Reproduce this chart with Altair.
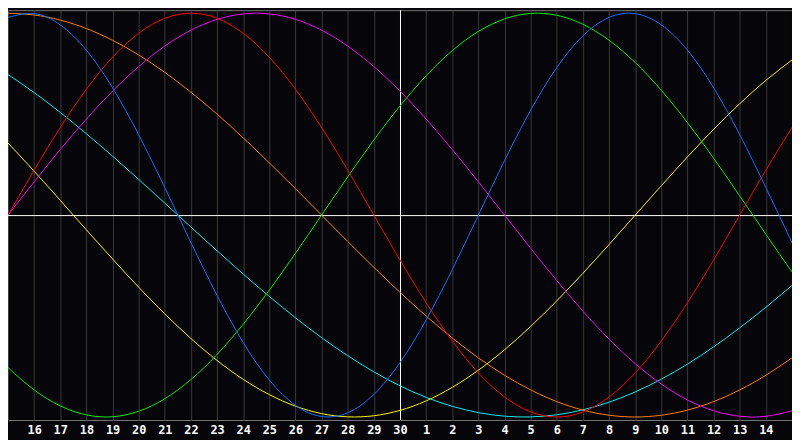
import altair as alt
import pandas as pd

# day index: 0 = the 15th of the previous month, 15 = the 30th (today), 30 = the 15th
t = list(range(31))
day_labels = ["", "16", "17", "18", "19", "20", "21", "22", "23", "24", "25", "26", "27",
              "28", "29", "30", "1", "2", "3", "4", "5", "6", "7", "8", "9", "10", "11",
              "12", "13", "14", ""]

blue = [0.9791, 0.9977, 0.9423, 0.8170, 0.6311, 0.3984, 0.1362, -0.1362, -0.3984, -0.6311,
        -0.8170, -0.9423, -0.9977, -0.9791, -0.8880, -0.7308, -0.5196, -0.2698, 0.0, 0.2698,
        0.5196, 0.7308, 0.8880, 0.9791, 0.9977, 0.9423, 0.8170, 0.6311, 0.3984, 0.1362, -0.1362]
red = [0.0, 0.2225, 0.4339, 0.6235, 0.7818, 0.9010, 0.9749, 1.0, 0.9749, 0.9010,
       0.7818, 0.6235, 0.4339, 0.2225, 0.0, -0.2225, -0.4339, -0.6235, -0.7818, -0.9010,
       -0.9749, -1.0, -0.9749, -0.9010, -0.7818, -0.6235, -0.4339, -0.2225, 0.0, 0.2225, 0.4339]
green = [-0.7557, -0.8660, -0.9450, -0.9898, -0.9989, -0.9718, -0.9096, -0.8146, -0.6901, -0.5406,
         -0.3717, -0.1893, 0.0, 0.1893, 0.3717, 0.5406, 0.6901, 0.8146, 0.9096, 0.9718,
         0.9989, 0.9898, 0.9450, 0.8660, 0.7557, 0.6182, 0.4582, 0.2817, 0.0951, -0.0951, -0.2817]
magenta = [0.0, 0.1646, 0.3247, 0.4759, 0.6142, 0.7357, 0.8372, 0.9158, 0.9694, 0.9966,
           0.9966, 0.9694, 0.9158, 0.8372, 0.7357, 0.6142, 0.4759, 0.3247, 0.1646, 0.0,
           -0.1646, -0.3247, -0.4759, -0.6142, -0.7357, -0.8372, -0.9158, -0.9694, -0.9966, -0.9966, -0.9694]
yellow = [0.3572, 0.2174, 0.0730, -0.0730, -0.2174, -0.3572, -0.4894, -0.6112, -0.7202, -0.8135,
          -0.8894, -0.9465, -0.9834, -0.9993, -0.9940, -0.9675, -0.9204, -0.8533, -0.7685, -0.6671,
          -0.5517, -0.4245, -0.2881, -0.1456, 0.0, 0.1456, 0.2881, 0.4245, 0.5517, 0.6671, 0.7685]
orange = [1.0, 0.9914, 0.9659, 0.9239, 0.8660, 0.7934, 0.7071, 0.6088, 0.5, 0.3827,
          0.2588, 0.1305, 0.0, -0.1305, -0.2588, -0.3827, -0.5, -0.6088, -0.7071, -0.7934,
          -0.8660, -0.9239, -0.9659, -0.9914, -1.0, -0.9914, -0.9659, -0.9239, -0.8660, -0.7934, -0.7071]
cyan = [0.6966, 0.6069, 0.5086, 0.4031, 0.2920, 0.1769, 0.0593, -0.0593, -0.1769, -0.2920,
        -0.4031, -0.5086, -0.6069, -0.6966, -0.7765, -0.8457, -0.9028, -0.9473, -0.9785, -0.9961,
        -0.9996, -0.9890, -0.9646, -0.9267, -0.8758, -0.8127, -0.7380, -0.6527, -0.5585, -0.4566, -0.3482]

names = ["cyan", "yellow", "orange", "green", "magenta", "red", "blue"]
values = [cyan, yellow, orange, green, magenta, red, blue]
colors = ["#00f0f0", "#f8f800", "#ff8000", "#00f000", "#f800f8", "#ff0000", "#1070ff"]

rows = []
for n, vals in zip(names, values):
    for ti, v in zip(t, vals):
        rows.append({"t": ti, "v": v, "name": n})
df = pd.DataFrame(rows)

label_expr = "[" + ",".join("'" + s + "'" for s in day_labels) + "][datum.value]"

x_axis = alt.Axis(values=t, labelExpr=label_expr, grid=True, gridColor="#3a3a3a",
                  gridWidth=1, domain=False, ticks=False, labelColor="white",
                  labelFont="DejaVu Sans Mono", labelFontWeight="bold", labelFontSize=12,
                  labelPadding=5, labelFlush=False, labelOverlap=False, title=None)
x_scale = alt.Scale(domain=[0, 30], nice=False, zero=False)
y_scale = alt.Scale(domain=[-1.015, 1.015], nice=False, zero=False)

x = alt.X("t:Q", scale=x_scale, axis=x_axis)
y = alt.Y("v:Q", scale=y_scale, axis=None)

hrule = alt.Chart(pd.DataFrame({"v": [0.0]})).mark_rule(
    color="white", strokeWidth=1, yOffset=0.5).encode(y=y)
vrule = alt.Chart(pd.DataFrame({"t": [15]})).mark_rule(
    color="white", strokeWidth=1, xOffset=0.5).encode(x=x)

lines = alt.Chart(df).mark_line(strokeWidth=1, interpolate="natural", clip=True).encode(
    x=x, y=y,
    color=alt.Color("name:N", scale=alt.Scale(domain=names, range=colors), legend=None),
    order=alt.Order("t:Q"),
)

chart = alt.layer(hrule, vrule, lines).properties(
    width=792, height=414,
    padding={"left": 0, "top": 0, "right": 0, "bottom": 18},
    autosize=alt.AutoSizeParams(type="none"),
).configure(background="#060509").configure_view(stroke="#777777", strokeWidth=1)

chart.save("out.html", embed_options={"renderer": "svg", "actions": False})
